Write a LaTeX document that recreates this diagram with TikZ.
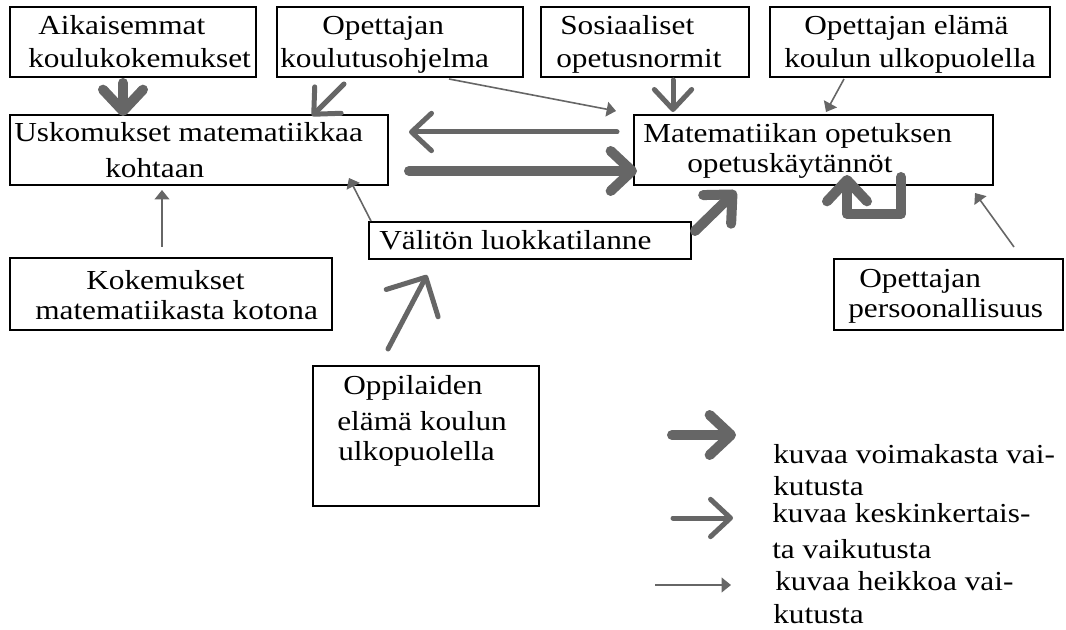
\documentclass[tikz,border=0pt]{standalone}
\usepackage{fontspec}
\setmainfont{Liberation Serif}[FakeStretch=1.14]
\usetikzlibrary{arrows.meta}
\definecolor{arrgray}{HTML}{666666}

\tikzset{
  box/.style 2 args={draw, line width=1.5pt, inner sep=0pt,
    minimum width=#1*0.75pt, minimum height=#2*0.75pt},
  txt/.style={anchor=base west, inner sep=0pt,
    font=\fontsize{20.6}{24}\selectfont},
  strong/.style={draw=arrgray, line width=7.5pt, line cap=round, line join=round,
    -{Straight Barb[length=16pt, width=30pt, round]}},
  medium/.style={draw=arrgray, line width=3.75pt, line cap=round,
    -{Straight Barb[length=15pt, width=28pt, round]}},
  mediumbig/.style={medium, -{Straight Barb[length=22pt, width=44pt, round]}},
  weak/.style={draw=arrgray, line width=1.2pt,
    -{Triangle[length=7pt, width=11pt]}},
}

\begin{document}
\begin{tikzpicture}[x=0.75pt, y=-0.75pt]
\useasboundingbox (0,0) rectangle (1066,630);

% boxes
\node[box={246}{70}]  (b1) at (133,42)   {};
\node[box={246}{70}]  (b2) at (400,42)   {};
\node[box={208}{70}]  (b3) at (645,42)   {};
\node[box={280}{70}]  (b4) at (910,42)   {};
\node[box={378}{70}]  (U)  at (199,150)  {};
\node[box={359}{70}]  (M)  at (813.5,150) {};
\node[box={322}{37}]  (V)  at (530,240.5) {};
\node[box={322}{72}]  (K)  at (171,294)  {};
\node[box={229}{71}]  (P)  at (948.5,294.5) {};
\node[box={226}{140}] (O)  at (426,436)  {};

% box texts
\node[txt] (t1a) at (38,35)  {Aikaisemmat};
\node[txt] (t1b) at (28,68)  {koulukokemukset};
\node[txt] (t2a) at (322,35) {Opettajan};
\node[txt] (t2b) at (280,68) {koulutusohjelma};
\node[txt] (t3a) at (560,35) {Sosiaaliset};
\node[txt] (t3b) at (556,68) {opetusnormit};
\node[txt] (t4a) at (804,35) {Opettajan elämä};
\node[txt] (t4b) at (784,68) {koulun ulkopuolella};
\node[txt] (tUa) at (14,142) {Uskomukset matematiikkaa};
\node[txt] (tUb) at (105,178) {kohtaan};
\node[txt] (tMa) at (643,143) {Matematiikan opetuksen};
\node[txt] (tMb) at (687,173) {opetuskäytännöt};
\node[txt] (tV)  at (379,250) {Välitön luokkatilanne};
\node[txt] (tKa) at (86,290) {Kokemukset};
\node[txt] (tKb) at (35,320) {matematiikasta kotona};
\node[txt] (tOa) at (343,395) {Oppilaiden};
\node[txt] (tOb) at (337,430) {elämä koulun};
\node[txt] (tOc) at (338,460) {ulkopuolella};
\node[txt] (tPa) at (859,288) {Opettajan};
\node[txt] (tPb) at (848,318) {persoonallisuus};

% influences
\draw[strong] ([shift={(114,5)}]b1.south west) -- ([shift={(114,2)}]U.north west);
\draw[medium] ([shift={(68,6)}]b2.south west) -- ([shift={(303,2)}]U.north west);
\draw[weak]   ([shift={(173,1)}]b2.south west) -- ([shift={(-17,-3)}]M.north west);
\draw[medium] ([shift={(133,2)}]b3.south west) -- ([shift={(40,-2)}]M.north west);
\draw[weak]   ([shift={(75,1)}]b4.south west) -- ([shift={(193,-2)}]M.north west);
\draw[medium] ([shift={(-16,18)}]M.north west) -- ([shift={(20,18)}]U.north east);
\draw[strong] ([shift={(20,57)}]U.north east) -- ([shift={(4,57)}]M.north west);
\draw[strong] ([shift={(3,10)}]V.north east) -- ([shift={(103,5)}]M.south west);
\draw[weak]   ([shift={(3,0)}]V.north west) -- ([shift={(-40,-8)}]U.south east);
\draw[weak]   ([shift={(153,-10)}]K.north west) -- ([shift={(153,4)}]U.south west);
\draw[weak]   ([shift={(181,-11)}]P.north west) -- ([shift={(-19,7)}]M.south east);
\draw[mediumbig] ([shift={(76,-16)}]O.north west) -- ([shift={(59,15)}]V.south west);
\draw[strong] ([shift={(268,-9)}]M.south west) -- ++(0,37) -- ++(-54,0)
              -- ([shift={(214,-11)}]M.south west);

% legend
\coordinate (ls1) at (672,435);
\coordinate (le1) at (736,435);
\coordinate (ls2) at (673,518);
\coordinate (le2) at (733,518);
\coordinate (ls3) at (655,585);
\coordinate (le3) at (731,585);
\draw[strong] (ls1) -- (le1);
\draw[medium] (ls2) -- (le2);
\draw[weak]   (ls3) -- (le3);
\node[txt] (l1a) at (773,463) {kuvaa voimakasta vai-};
\node[txt] (l1b) at (773,495) {kutusta};
\node[txt] (l2a) at (772,522) {kuvaa keskinkertais-};
\node[txt] (l2b) at (772,558) {ta vaikutusta};
\node[txt] (l3a) at (775,590) {kuvaa heikkoa vai-};
\node[txt] (l3b) at (773,623) {kutusta};
\end{tikzpicture}
\end{document}
